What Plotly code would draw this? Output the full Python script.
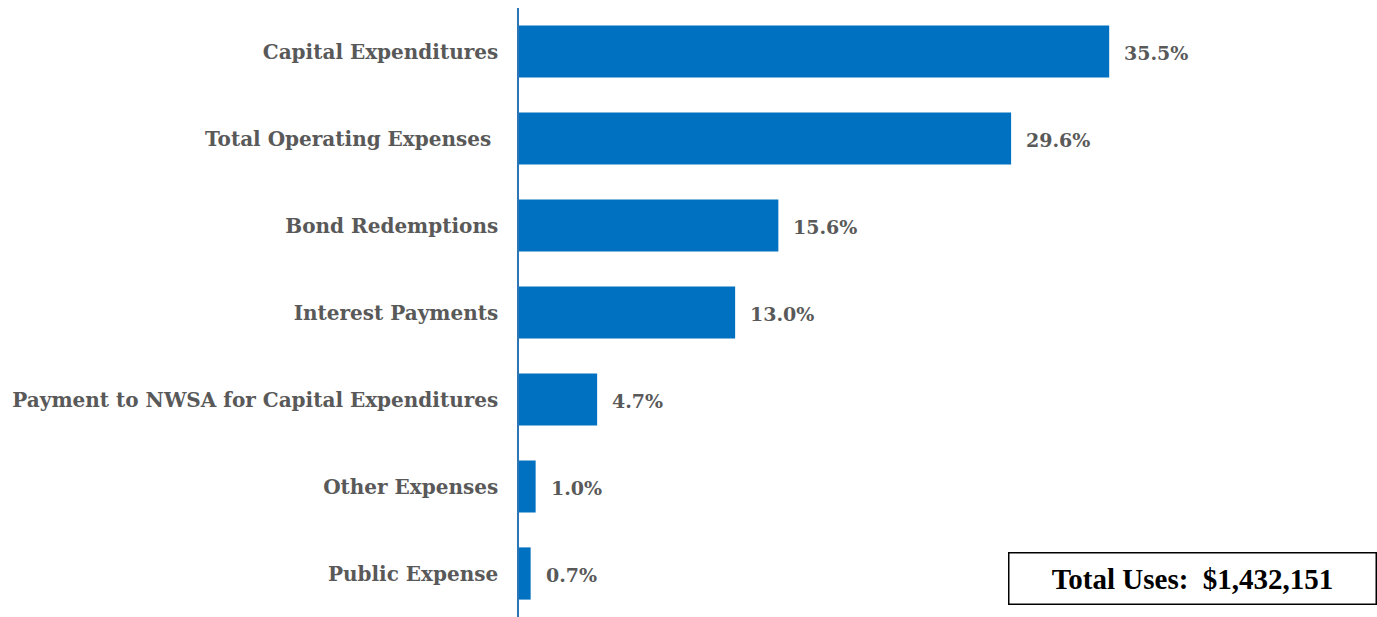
import plotly.graph_objects as go

categories = [
    "Capital Expenditures",
    "Total Operating Expenses ",
    "Bond Redemptions",
    "Interest Payments",
    "Payment to NWSA for Capital Expenditures",
    "Other Expenses",
    "Public Expense",
]
shares = [35.5, 29.6, 15.6, 13.0, 4.7, 1.0, 0.7]
value_labels = ["35.5%", "29.6%", "15.6%", "13.0%", "4.7%", "1.0%", "0.7%"]
total_label = "Total Uses:  $1,432,151"

label_font = "DejaVu Serif, serif"
box_font = "Liberation Serif, Times New Roman, serif"
grey = "#595959"

fig = go.Figure(
    go.Bar(
        x=shares,
        y=categories,
        orientation="h",
        marker=dict(color="#0070C0", line=dict(width=0)),
        width=0.6,
        hoverinfo="skip",
    )
)

for cat, val, lab in zip(categories, shares, value_labels):
    fig.add_annotation(
        x=val, y=cat, text=f"<b>{lab}</b>", showarrow=False,
        xanchor="left", xshift=13, yshift=-1,
        font=dict(family=label_font, size=19, color=grey),
    )

# Total box in the lower right corner
fig.add_annotation(
    xref="paper", yref="paper", x=0.7353, y=0.02,
    xanchor="left", yanchor="bottom",
    text=f"<b>{total_label}</b>", showarrow=False,
    font=dict(family=box_font, size=29, color="#000000"),
    bordercolor="#000000", borderwidth=1.5, borderpad=9,
    width=348, bgcolor="white",
)

fig.update_layout(
    width=1377, height=617,
    margin=dict(l=519, r=193, t=8, b=0),
    plot_bgcolor="white", paper_bgcolor="white",
    showlegend=False,
    bargap=0.4,
    xaxis=dict(range=[0, 40], visible=False),
    yaxis=dict(
        categoryorder="array", categoryarray=categories[::-1],
        showline=True, linecolor="#2E75B6", linewidth=1.5,
        showgrid=False, ticks="", ticklabelstandoff=15,
        tickfont=dict(family=label_font, size=20, color=grey),
        tickvals=categories[::-1],
        ticktext=[f"<b>{c}</b>" for c in categories[::-1]],
    ),
)

fig.write_html("out.html")
